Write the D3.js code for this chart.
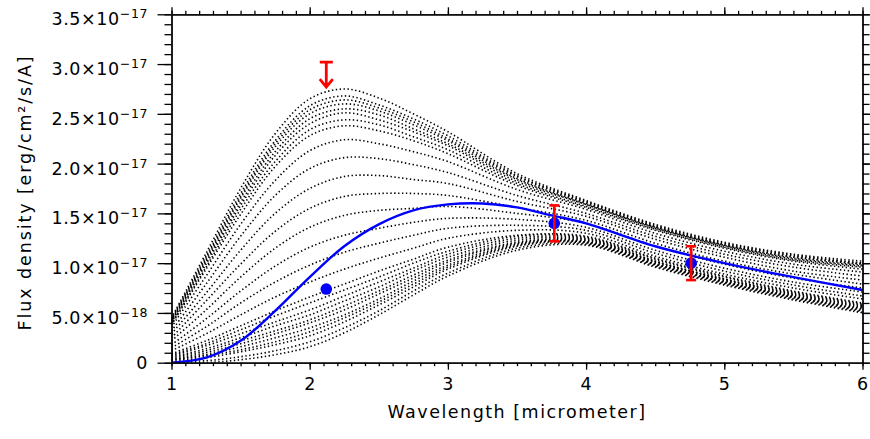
<!DOCTYPE html>
<html>
<head>
<meta charset="utf-8">
<script src="https://cdn.jsdelivr.net/npm/d3@7/dist/d3.min.js"></script>
<style>
  body { margin: 0; background: #fff; }
  svg { display: block; font-family: "DejaVu Sans", sans-serif; }
</style>
</head>
<body>
<div id="chart"></div>
<script>
////////////////////////////////////////////////////////////////////
////////////////////////////  Data  ////////////////////////////////
// flux values are in units of 1e-17 erg/cm2/s/A
const unit = 1e-17;

// wavelengths (micrometer) at which the model curves were read
const modelWave = [1.0, 1.25, 1.5, 1.75, 2.0, 2.25, 2.5, 2.75, 3.0, 3.5, 4.0, 4.5, 5.0, 5.5, 6.0];

// model SEDs (dotted black)
const models = [
  [0.45, 1.10, 1.75, 2.30, 2.65, 2.75, 2.66, 2.50, 2.32, 1.90, 1.63, 1.39, 1.21, 1.09, 1.02],
  [0.44, 1.07, 1.70, 2.23, 2.58, 2.68, 2.59, 2.45, 2.28, 1.88, 1.62, 1.38, 1.20, 1.08, 1.00],
  [0.43, 1.05, 1.67, 2.20, 2.54, 2.64, 2.56, 2.42, 2.25, 1.87, 1.61, 1.37, 1.19, 1.07, 1.00],
  [0.42, 1.03, 1.65, 2.17, 2.50, 2.60, 2.53, 2.39, 2.23, 1.85, 1.60, 1.36, 1.18, 1.06, 0.99],
  [0.41, 1.01, 1.61, 2.12, 2.45, 2.55, 2.49, 2.35, 2.20, 1.84, 1.59, 1.36, 1.18, 1.05, 0.98],
  [0.41, 0.99, 1.58, 2.08, 2.40, 2.51, 2.44, 2.32, 2.18, 1.82, 1.59, 1.35, 1.17, 1.04, 0.97],
  [0.39, 0.96, 1.54, 2.02, 2.34, 2.44, 2.39, 2.27, 2.14, 1.80, 1.57, 1.34, 1.16, 1.03, 0.96],
  [0.38, 0.94, 1.49, 1.97, 2.28, 2.38, 2.33, 2.23, 2.10, 1.78, 1.56, 1.33, 1.15, 1.02, 0.94],
  [0.36, 0.87, 1.39, 1.83, 2.13, 2.24, 2.20, 2.12, 2.02, 1.74, 1.54, 1.30, 1.12, 0.99, 0.91],
  [0.32, 0.79, 1.27, 1.68, 1.95, 2.06, 2.05, 1.99, 1.91, 1.68, 1.50, 1.27, 1.09, 0.96, 0.87],
  [0.29, 0.70, 1.13, 1.50, 1.75, 1.87, 1.88, 1.84, 1.80, 1.62, 1.47, 1.24, 1.06, 0.92, 0.83],
  [0.25, 0.62, 0.99, 1.32, 1.55, 1.67, 1.70, 1.70, 1.68, 1.56, 1.43, 1.20, 1.02, 0.89, 0.79],
  [0.22, 0.53, 0.86, 1.15, 1.36, 1.48, 1.53, 1.55, 1.57, 1.50, 1.40, 1.17, 0.99, 0.85, 0.75],
  [0.18, 0.44, 0.72, 0.97, 1.16, 1.28, 1.35, 1.41, 1.45, 1.44, 1.36, 1.13, 0.95, 0.81, 0.71],
  [0.15, 0.36, 0.60, 0.81, 0.98, 1.11, 1.20, 1.28, 1.35, 1.38, 1.33, 1.10, 0.92, 0.78, 0.67],
  [0.12, 0.29, 0.48, 0.66, 0.81, 0.94, 1.05, 1.15, 1.25, 1.33, 1.30, 1.07, 0.89, 0.75, 0.64],
  [0.09, 0.22, 0.37, 0.52, 0.66, 0.79, 0.92, 1.04, 1.16, 1.28, 1.27, 1.05, 0.87, 0.72, 0.60],
  [0.08, 0.19, 0.33, 0.47, 0.60, 0.73, 0.86, 1.00, 1.12, 1.27, 1.26, 1.04, 0.86, 0.71, 0.59],
  [0.07, 0.17, 0.29, 0.41, 0.53, 0.67, 0.81, 0.95, 1.09, 1.25, 1.25, 1.02, 0.84, 0.70, 0.58],
  [0.06, 0.14, 0.25, 0.37, 0.48, 0.62, 0.76, 0.92, 1.06, 1.23, 1.24, 1.02, 0.84, 0.69, 0.57],
  [0.05, 0.12, 0.22, 0.32, 0.43, 0.57, 0.72, 0.88, 1.03, 1.21, 1.23, 1.01, 0.83, 0.68, 0.56],
  [0.04, 0.10, 0.19, 0.29, 0.40, 0.53, 0.69, 0.85, 1.01, 1.20, 1.22, 1.00, 0.82, 0.67, 0.55],
  [0.03, 0.08, 0.16, 0.25, 0.35, 0.48, 0.64, 0.82, 0.98, 1.19, 1.21, 0.99, 0.81, 0.66, 0.54],
  [0.03, 0.07, 0.13, 0.21, 0.31, 0.45, 0.61, 0.79, 0.96, 1.18, 1.21, 0.99, 0.81, 0.66, 0.53],
  [0.02, 0.05, 0.11, 0.18, 0.27, 0.41, 0.58, 0.76, 0.94, 1.17, 1.20, 0.98, 0.80, 0.65, 0.52],
  [0.01, 0.02, 0.06, 0.12, 0.21, 0.35, 0.52, 0.72, 0.90, 1.15, 1.19, 0.97, 0.79, 0.64, 0.51],
  [0.00, 0.00, 0.03, 0.08, 0.16, 0.30, 0.48, 0.68, 0.87, 1.13, 1.18, 0.96, 0.78, 0.63, 0.50],
];

// best fit (blue)
const fitWave = [1.0, 1.25, 1.5, 1.75, 2.0, 2.25, 2.5, 2.75, 3.0, 3.25, 3.5, 3.75, 4.0, 4.5, 5.0, 5.5, 6.0];
const fitFlux = [0.0, 0.05, 0.22, 0.52, 0.86, 1.17, 1.39, 1.53, 1.59, 1.60, 1.56, 1.48, 1.40, 1.17, 1.00, 0.86, 0.73];

// photometry
const obsWave = [2.12, 3.77, 4.76];
const obsFlux = [0.74, 1.40, 1.00];
const obsErr = [0, 0.18, 0.17];

// upper limit
const limWave = [2.12];
const limFlux = [3.02];

// ticks
const xTicks = [1, 2, 3, 4, 5, 6];
const yTicks = [0, 0.5, 1.0, 1.5, 2.0, 2.5, 3.0, 3.5];
const yTickMant = ["0", "5.0×10", "1.0×10", "1.5×10", "2.0×10", "2.5×10", "3.0×10", "3.5×10"];
const yTickExp = ["", "−18", "−17", "−17", "−17", "−17", "−17", "−17"];

////////////////////////////////////////////////////////////////////
////////////////////////////  Init  ////////////////////////////////
const width = 870;
const height = 439;
const margin = { top: 14.3, right: 7.5, bottom: 76.3, left: 171.5 };

const svg = d3
  .select("#chart")
  .append("svg")
  .attr("width", width)
  .attr("height", height);

const x = d3
  .scaleLinear()
  .domain([1, 6])
  .range([margin.left, width - margin.right]);

const y = d3
  .scaleLinear()
  .domain([0, 3.5])
  .range([height - margin.bottom, margin.top]);

svg
  .append("clipPath")
  .attr("id", "clip")
  .append("rect")
  .attr("x", margin.left)
  .attr("y", margin.top)
  .attr("width", x(6) - x(1))
  .attr("height", y(0) - y(3.5));

const plot = svg.append("g").attr("clip-path", "url(#clip)");

// models
const modelLine = d3
  .line()
  .x((d, i) => x(modelWave[i]))
  .y((d) => y(d))
  .curve(d3.curveCatmullRom.alpha(0.5));

plot
  .selectAll(".model")
  .data(models)
  .enter()
  .append("path")
  .attr("class", "model")
  .attr("d", modelLine)
  .attr("fill", "none")
  .attr("stroke", "#000")
  .attr("stroke-width", 1.6)
  .attr("stroke-dasharray", "1.4,2.5");

// best fit
const fitLine = d3
  .line()
  .x((d, i) => x(fitWave[i]))
  .y((d) => y(d))
  .curve(d3.curveCatmullRom.alpha(0.5));

plot
  .append("path")
  .datum(fitFlux)
  .attr("d", fitLine)
  .attr("fill", "none")
  .attr("stroke", "#0000ff")
  .attr("stroke-width", 2.4);

// points
svg
  .selectAll(".obs")
  .data(obsFlux)
  .enter()
  .append("circle")
  .attr("cx", (d, i) => x(obsWave[i]))
  .attr("cy", (d) => y(d))
  .attr("r", 5.8)
  .attr("fill", "#0000ff");

// error bars
const errs = svg
  .selectAll(".err")
  .data(obsFlux.map((d, i) => i).filter((i) => obsErr[i] > 0))
  .enter()
  .append("g")
  .attr("stroke", "#ff0000")
  .attr("stroke-width", 2.6);

errs
  .append("line")
  .attr("x1", (i) => x(obsWave[i]))
  .attr("x2", (i) => x(obsWave[i]))
  .attr("y1", (i) => y(obsFlux[i] + obsErr[i]))
  .attr("y2", (i) => y(obsFlux[i] - obsErr[i]));

[1, -1].forEach((s) => {
  errs
    .append("line")
    .attr("x1", (i) => x(obsWave[i]) - 5)
    .attr("x2", (i) => x(obsWave[i]) + 5)
    .attr("y1", (i) => y(obsFlux[i] + s * obsErr[i]))
    .attr("y2", (i) => y(obsFlux[i] + s * obsErr[i]));
});

// upper limit arrow
const lim = svg
  .selectAll(".lim")
  .data(limFlux)
  .enter()
  .append("g")
  .attr("stroke", "#ff0000")
  .attr("stroke-width", 2.8)
  .attr("fill", "none");

lim
  .append("path")
  .attr("d", (d, i) => {
    const cx = x(limWave[i]);
    const cy = y(d);
    return `M${cx - 6.5},${cy}H${cx + 6.5}M${cx},${cy}V${cy + 25}` +
      `M${cx - 6.5},${cy + 17}L${cx},${cy + 25}L${cx + 6.5},${cy + 17}`;
  });

////////////////////////////////////////////////////////////////////
////////////////////////////  Axes  ////////////////////////////////
const xMinor = x.ticks(50);
const yMinor = y.ticks(35);

const drawAxis = (axis, tx, ty) => {
  svg
    .append("g")
    .attr("transform", `translate(${tx},${ty})`)
    .call(axis)
    .call((g) => g.selectAll("text").remove())
    .call((g) => g.selectAll("path, line").attr("stroke", "#000").attr("stroke-width", 1.3));
};

const x0 = margin.left;
const y0 = height - margin.bottom;

drawAxis(d3.axisBottom(x).tickValues(xMinor).tickSize(3.5).tickSizeOuter(0), 0, y0);
drawAxis(d3.axisBottom(x).tickValues(xTicks).tickSize(7).tickSizeOuter(0), 0, y0);
drawAxis(d3.axisTop(x).tickValues(xMinor).tickSize(3.5).tickSizeOuter(0), 0, margin.top);
drawAxis(d3.axisTop(x).tickValues(xTicks).tickSize(7).tickSizeOuter(0), 0, margin.top);
drawAxis(d3.axisLeft(y).tickValues(yMinor).tickSize(7).tickSizeOuter(0), x0, 0);
drawAxis(d3.axisLeft(y).tickValues(yTicks).tickSize(14).tickSizeOuter(0), x0, 0);
drawAxis(d3.axisRight(y).tickValues(yMinor).tickSize(7).tickSizeOuter(0), x(6), 0);
drawAxis(d3.axisRight(y).tickValues(yTicks).tickSize(14).tickSizeOuter(0), x(6), 0);

// x tick labels
svg
  .selectAll(".xlab")
  .data(xTicks)
  .enter()
  .append("text")
  .attr("x", (d) => x(d))
  .attr("y", y0 + 27)
  .attr("text-anchor", "middle")
  .attr("font-size", 17.5)
  .text((d) => d);

// y tick labels
const ylab = svg
  .selectAll(".ylab")
  .data(yTicks)
  .enter()
  .append("text")
  .attr("x", 148)
  .attr("y", (d, i) => y(d) + (yTickExp[i] ? 11 : 6.5))
  .attr("text-anchor", "end")
  .attr("font-size", 17.5)
  .attr("letter-spacing", 0.6);

ylab.append("tspan").text((d, i) => yTickMant[i]);
ylab
  .append("tspan")
  .attr("dy", -7)
  .attr("font-size", 12.5)
  .text((d, i) => yTickExp[i]);

// titles
svg
  .append("text")
  .attr("x", (x(1) + x(6)) / 2)
  .attr("y", 418)
  .attr("text-anchor", "middle")
  .attr("font-size", 17.5)
  .attr("letter-spacing", 1.5)
  .text("Wavelength [micrometer]");

svg
  .append("text")
  .attr("transform", `translate(31,${(y(0) + y(3.5)) / 2 + 4}) rotate(-90)`)
  .attr("text-anchor", "middle")
  .attr("font-size", 17.5)
  .attr("letter-spacing", 1.9)
  .text("Flux density [erg/cm²/s/A]");
</script>
</body>
</html>
